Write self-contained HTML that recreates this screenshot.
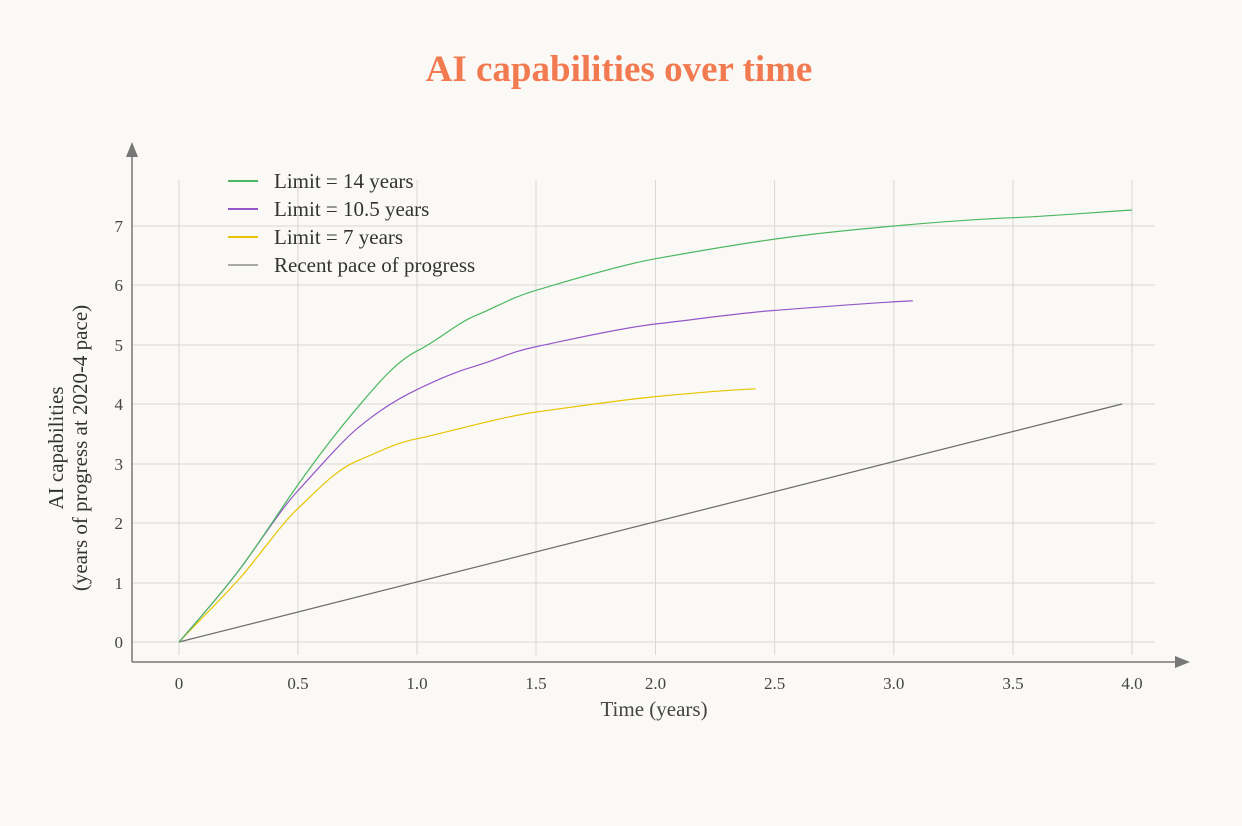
<!DOCTYPE html>
<html><head><meta charset="utf-8"><style>
body{margin:0;background:#faf9f5;}
svg{display:block;font-family:"Liberation Serif",serif;}
</style></head><body>
<svg width="1242" height="826" viewBox="0 0 1242 826">
<rect width="1242" height="826" fill="#faf9f5"/>
<text x="619" y="81" text-anchor="middle" font-size="37" font-weight="bold" fill="#f27a50">AI capabilities over time</text>
<g stroke="#d9d8d4" stroke-width="1">
<line x1="179" y1="180" x2="179" y2="655"/><line x1="298" y1="180" x2="298" y2="655"/><line x1="417" y1="180" x2="417" y2="655"/><line x1="536" y1="180" x2="536" y2="655"/><line x1="655.5" y1="180" x2="655.5" y2="655"/><line x1="774.6" y1="180" x2="774.6" y2="655"/><line x1="893.8" y1="180" x2="893.8" y2="655"/><line x1="1013" y1="180" x2="1013" y2="655"/><line x1="1132" y1="180" x2="1132" y2="655"/>
<line x1="132" y1="642" x2="1155" y2="642"/><line x1="132" y1="583" x2="1155" y2="583"/><line x1="132" y1="523" x2="1155" y2="523"/><line x1="132" y1="464" x2="1155" y2="464"/><line x1="132" y1="404" x2="1155" y2="404"/><line x1="132" y1="345" x2="1155" y2="345"/><line x1="132" y1="285" x2="1155" y2="285"/><line x1="132" y1="226" x2="1155" y2="226"/>
</g>
<g stroke="#777" stroke-width="1.5"><line x1="132" y1="662" x2="132" y2="155"/><line x1="132" y1="662" x2="1178" y2="662"/></g>
<polygon points="126,157 132,142 138,157" fill="#777"/>
<polygon points="1175,656 1190,662 1175,668" fill="#777"/>
<g font-size="17" fill="#444" text-anchor="end">
<text x="123" y="648">0</text><text x="123" y="589">1</text><text x="123" y="529">2</text><text x="123" y="470">3</text><text x="123" y="410">4</text><text x="123" y="351">5</text><text x="123" y="291">6</text><text x="123" y="232">7</text>
</g>
<g font-size="17" fill="#444" text-anchor="middle">
<text x="179" y="689">0</text><text x="298" y="689">0.5</text><text x="417" y="689">1.0</text><text x="536" y="689">1.5</text><text x="655.5" y="689">2.0</text><text x="774.6" y="689">2.5</text><text x="893.8" y="689">3.0</text><text x="1013" y="689">3.5</text><text x="1132" y="689">4.0</text>
<text x="654" y="716" font-size="21">Time (years)</text>
</g>
<g font-size="21" fill="#333" text-anchor="middle" transform="translate(63,448) rotate(-90)">
<text x="0" y="0">AI capabilities</text><text x="0" y="24">(years of progress at 2020-4 pace)</text>
</g>
<g fill="none" stroke-width="1.2" stroke-linejoin="round">
<line x1="179" y1="642" x2="1122" y2="404" stroke="#6b6b6b"/>
<path stroke="#e8c400" d="M179,642 C200,620 220,600 238.6,579.6 S280,525 298.1,508.3 S335,470 357.7,460.7 S395,443 417.3,438.7 S500,417 536.4,412 S620,400 655.5,396.6 S730,390 755.6,388.8"/>
<path stroke="#9457c9" d="M179,642 C200,618 220,595 238.6,570.7 S280,510 298.1,490.5 S340,443 357.7,428.1 S395,400 417.3,389.4 S455,372 476.8,365.6 S510,352 536.4,346.6 S620,328 655.5,324 S740,313 774.6,310.4 S880,302 912.8,300.9"/>
<path stroke="#4cb862" d="M179,642 C200,618 220,595 238.6,570.7 S280,510 298.1,484.5 S340,428 357.7,407.3 S395,362 417.3,350.8 S455,324 476.8,315.1 S510,298 536.4,290.2 S620,265 655.5,258.7 S740,244 774.6,239.1 S860,229 893.8,226 S980,219 1012.9,217.7 S1100,212 1132,210"/>
</g>
<g stroke-width="2">
<line x1="228" y1="181" x2="258" y2="181" stroke="#4cb862"/>
<line x1="228" y1="209" x2="258" y2="209" stroke="#9457c9"/>
<line x1="228" y1="237" x2="258" y2="237" stroke="#e8c400"/>
<line x1="228" y1="265" x2="258" y2="265" stroke="#aaa"/>
</g>
<g font-size="21" fill="#333">
<text x="274" y="188">Limit = 14 years</text><text x="274" y="216">Limit = 10.5 years</text><text x="274" y="244">Limit = 7 years</text><text x="274" y="272">Recent pace of progress</text>
</g>
</svg>
</body></html>
